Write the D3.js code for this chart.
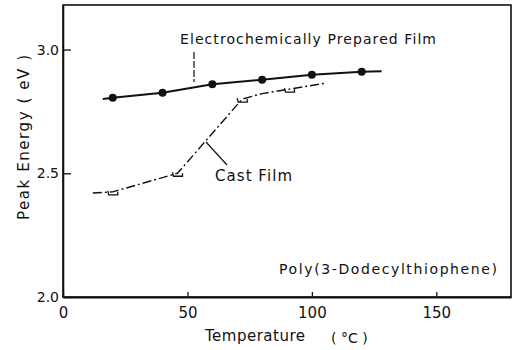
<!DOCTYPE html>
<html>
<head>
<meta charset="utf-8">
<script src="https://cdn.jsdelivr.net/npm/d3@7"></script>
<style>
  html, body { margin: 0; padding: 0; background: #fff; }
  svg { display: block; }
  text { font-family: "DejaVu Sans", "Liberation Sans", sans-serif; fill: #111; }
</style>
</head>
<body>
<svg id="chart" width="525" height="350"></svg>
<script>
// Peak energy vs temperature for poly(3-dodecylthiophene) films
const electroTemp = [20, 40, 60, 80, 100, 120];
const electroEnergy = [2.805, 2.825, 2.86, 2.878, 2.898, 2.91];
const electroLineTemp = [16, 20, 40, 60, 80, 100, 120, 128];
const electroLineEnergy = [2.80, 2.805, 2.825, 2.86, 2.878, 2.898, 2.91, 2.912];

const castTemp = [20, 46, 72, 91];
const castEnergy = [2.425, 2.5, 2.80, 2.84];
const castLineTemp = [12, 20, 46, 72, 80, 91, 106];
const castLineEnergy = [2.42, 2.425, 2.5, 2.80, 2.822, 2.84, 2.865];

const xTicks = [0, 50, 100, 150];
const xTickLabels = ["0", "50", "100", "150"];
const yTicks = [2.0, 2.5, 3.0];
const yTickLabels = ["2.0", "2.5", "3.0"];

const svg = d3.select("#chart");
const x = d3.scaleLinear().domain([0, 180]).range([63, 511]);
const y = d3.scaleLinear().domain([2.0, 3.18]).range([297, 5]);

// frame
svg.append("rect")
  .attr("x", x(0)).attr("y", y(3.18))
  .attr("width", x(180) - x(0)).attr("height", y(2.0) - y(3.18))
  .attr("fill", "none").attr("stroke", "#111").attr("stroke-width", 1.6);

// axes with inward ticks
const xAxis = d3.axisBottom(x).tickValues(xTicks).tickSizeInner(-5).tickSizeOuter(0)
  .tickFormat((d, i) => xTickLabels[i]).tickPadding(10);
const gx = svg.append("g").attr("transform", `translate(0,${y(2.0)})`).call(xAxis);
gx.select(".domain").attr("stroke", "#111").attr("stroke-width", 2.2);
gx.selectAll(".tick line").attr("stroke", "#111").attr("stroke-width", 1.3);
gx.selectAll(".tick text").attr("font-size", 15).attr("font-family", "DejaVu Sans, sans-serif").attr("fill", "#111");

const yAxis = d3.axisLeft(y).tickValues(yTicks).tickSizeInner(-8).tickSizeOuter(0)
  .tickFormat((d, i) => yTickLabels[i]).tickPadding(4);
const gy = svg.append("g").attr("transform", `translate(${x(0)},0)`).call(yAxis);
gy.select(".domain").attr("stroke", "#111").attr("stroke-width", 1.6);
gy.selectAll(".tick line").attr("stroke", "#111").attr("stroke-width", 1.3);
gy.selectAll(".tick text").attr("font-size", 14).attr("font-family", "DejaVu Sans, sans-serif").attr("fill", "#111");

// electrochemically prepared film: solid line with filled dots
const line = d3.line();
svg.append("path")
  .attr("d", line(electroLineTemp.map((t, i) => [x(t), y(electroLineEnergy[i])])))
  .attr("fill", "none").attr("stroke", "#111").attr("stroke-width", 2)
  .attr("stroke-linejoin", "round");
svg.selectAll("circle.electro").data(electroTemp).enter().append("circle")
  .attr("class", "electro")
  .attr("cx", d => x(d)).attr("cy", (d, i) => y(electroEnergy[i]))
  .attr("r", 4).attr("fill", "#111");

// cast film: dash-dot polyline with small open markers
svg.append("path")
  .attr("d", line(castLineTemp.map((t, i) => [x(t), y(castLineEnergy[i])])))
  .attr("fill", "none").attr("stroke", "#111").attr("stroke-width", 1.4)
  .attr("stroke-linejoin", "round")
  .attr("stroke-dasharray", "9,3,2,3");
svg.selectAll("path.cast").data(castTemp).enter().append("path")
  .attr("class", "cast")
  .attr("transform", (d, i) => `translate(${x(d)},${y(castEnergy[i])})`)
  .attr("d", "M-5,-1 L-4,3 L5,3 L5,0")
  .attr("fill", "none").attr("stroke", "#111").attr("stroke-width", 1.3);

// annotations
svg.append("text").attr("x", 180).attr("y", 44).attr("font-size", 14)
  .attr("textLength", 256).attr("lengthAdjust", "spacing")
  .text("Electrochemically Prepared Film");
svg.append("line").attr("x1", 194).attr("y1", 52).attr("x2", 194).attr("y2", 82)
  .attr("stroke", "#111").attr("stroke-width", 1.2).attr("stroke-dasharray", "7,2");

svg.append("text").attr("x", 215).attr("y", 181).attr("font-size", 15)
  .attr("textLength", 77).attr("lengthAdjust", "spacing")
  .text("Cast Film");
svg.append("line").attr("x1", 206).attr("y1", 142).attr("x2", 227).attr("y2", 165)
  .attr("stroke", "#111").attr("stroke-width", 1.2);

svg.append("text").attr("x", 279).attr("y", 274).attr("font-size", 14)
  .attr("textLength", 218).attr("lengthAdjust", "spacing")
  .text("Poly(3-Dodecylthiophene)");

// axis titles
svg.append("text").attr("transform", "translate(29,220) rotate(-90)")
  .attr("font-size", 15)
  .attr("textLength", 165).attr("lengthAdjust", "spacing")
  .text("Peak Energy ( eV )");
svg.append("text").attr("x", 205).attr("y", 341).attr("font-size", 15)
  .attr("textLength", 100).attr("lengthAdjust", "spacing")
  .text("Temperature");
svg.append("text").attr("x", 331).attr("y", 343).attr("font-size", 14)
  .text("( °C )");
</script>
</body>
</html>
